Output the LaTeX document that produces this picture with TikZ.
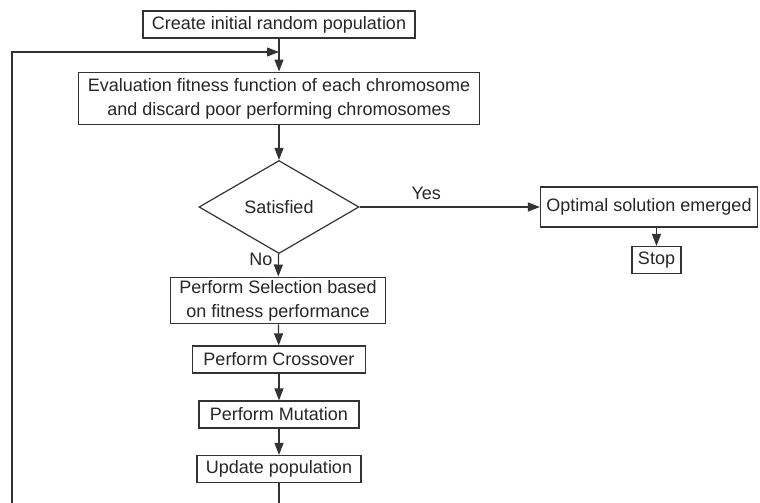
\documentclass[tikz,border=0pt]{standalone}
\usepackage{fontspec}
\setmainfont{Liberation Sans}
\usepackage{tikz}
\usetikzlibrary{
    arrows,
    arrows.meta,
    shapes,
    shapes.geometric,
    calc,
    positioning,
}

\begin{document}
\begin{tikzpicture}[x=1pt,y=-1pt,>={Stealth[length=12pt,width=9pt,inset=0pt]},auto]

    \tikzstyle{commonNode}=[font=\fontsize{18}{24}\selectfont, align=center, line width=1.2pt, draw=black!80, text=black!85]
    \tikzstyle{stepbox}=[commonNode, rectangle, inner xsep=9pt, inner ysep=3pt, minimum height=27pt]
    \tikzstyle{decision}=[commonNode, diamond, inner sep=0pt, minimum width=160pt, minimum height=93pt]
    \tikzstyle{flow}=[<-, line width=1.2pt, draw=black!80]
    \tikzstyle{tag}=[font=\fontsize{18}{20}\selectfont, text=black!85]

    \useasboundingbox (0,0) rectangle (760,503);

    % Main column
    \node at (279, 24.5)  [stepbox]  (create)    {Create initial random population};
    \node at (279, 98.5)  [stepbox, inner ysep=6pt]  (evaluate)  {Evaluation fitness function of each chromosome \\ and discard poor performing chromosomes}
        edge  [flow]   (create);
    \node at (279, 207)   [decision] (satisfied) {Satisfied}
        edge  [flow]   (evaluate);
    \node at (278, 300.5) [stepbox]  (selection) {Perform Selection based \\ on fitness performance}
        edge  [flow]   node [tag, pos=0.75, anchor=east, xshift=-2pt] {No} (satisfied);
    \node at (279, 359.5) [stepbox, inner xsep=11pt]  (crossover) {Perform Crossover}
        edge  [flow]   (selection);
    \node at (279, 414.5) [stepbox, minimum width=160pt]  (mutation)  {Perform Mutation}
        edge  [flow]   (crossover);
    \node at (279, 469)   [stepbox, minimum width=160pt]  (update)    {Update population}
        edge  [flow]   (mutation);

    % Exit branch
    \node at (649, 207)   [stepbox, inner xsep=6pt, minimum height=40pt]  (optimal)   {Optimal solution emerged}
        edge  [flow]   node [tag, pos=0.63, swap, yshift=3pt] {Yes} (satisfied);
    \node at (656.5, 260) [stepbox, inner xsep=6pt] (stop) {Stop};
    \draw [flow] (stop.north) -- (stop.north |- optimal.south);

    % Loop back
    \coordinate (loopbot) at (12, 520);
    \coordinate (looptop) at (12, 52);
    \draw [->, line width=1.2pt, draw=black!80] (update.south) |- (loopbot) -- (looptop) -- (looptop -| evaluate.north);

\end{tikzpicture}
\end{document}
